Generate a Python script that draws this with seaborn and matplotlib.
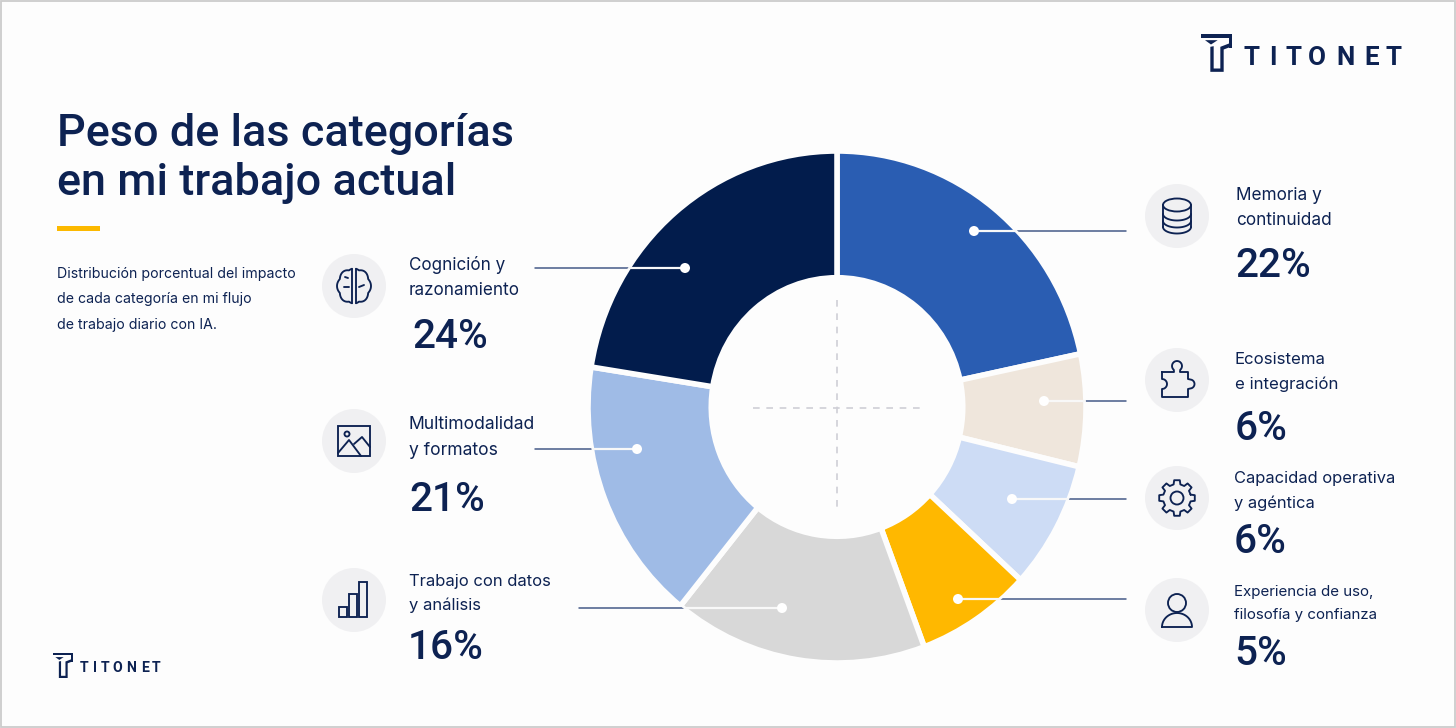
import numpy as np
import matplotlib
matplotlib.use("Agg")
import matplotlib.pyplot as plt
from matplotlib.patches import Circle, Ellipse, Polygon, Rectangle
import seaborn as sns

# Data
categories = ["Memoria y\ncontinuidad", "Ecosistema\ne integración",
              "Capacidad operativa\ny agéntica", "Experiencia de uso,\nfilosofía y confianza",
              "Trabajo con datos\ny análisis", "Multimodalidad\ny formatos",
              "Cognición y\nrazonamiento"]
percent_labels = [22, 6, 6, 5, 16, 21, 24]
# the slices in the picture are not drawn to the printed numbers, so these are the angles seen
arc_degrees = [78, 25.5, 29, 27, 59.5, 60, 81]
slice_colors = ["#2a5db2", "#efe6dc", "#cddcf5", "#ffb800", "#d8d8d8", "#9fbbe6", "#021c4c"]

NAVY = "#0d2252"
BG = "#fdfdfd"

sns.set_theme(style="white")
plt.rcParams["font.family"] = ["Inter", "DejaVu Sans"]

fig = plt.figure(figsize=(14.56, 7.28), dpi=100, facecolor=BG)

# Donut, slightly taller than wide like the original
cx, cy, rx, ry = 837, 407, 249, 256
ax_pie = fig.add_axes([(cx - rx) / 1456, 1 - (cy + ry) / 728, 2 * rx / 1456, 2 * ry / 728])
wedges, _ = ax_pie.pie(arc_degrees, colors=slice_colors, startangle=90, counterclock=False,
                       radius=1, wedgeprops=dict(width=0.495, edgecolor=BG, linewidth=4.0))
ax_pie.set_xlim(-1, 1)
ax_pie.set_ylim(-1, 1)
ax_pie.set_aspect("auto")

# Overlay in image pixels
ax = fig.add_axes([0, 0, 1, 1])
ax.set_xlim(0, 1456)
ax.set_ylim(728, 0)
ax.axis("off")
ax.patch.set_alpha(0)
ax.add_patch(Rectangle((0.7, 0.7), 1454.6, 726.6, fill=False, ec="#cccccc", lw=1.3))


def px(size):
    return size * 0.72


# Title block
ax.text(57, 146, "Peso de las categorías", fontsize=px(45), fontweight="medium", color=NAVY, family="Roboto")
ax.text(57, 195, "en mi trabajo actual", fontsize=px(45), fontweight="medium", color=NAVY, family="Roboto")
ax.add_patch(Rectangle((57, 226), 43, 5, color="#fcb900", lw=0))
for y, line in zip([278, 303, 329], ["Distribución porcentual del impacto",
                                     "de cada categoría en mi flujo",
                                     "de trabajo diario con IA."]):
    ax.text(57, y, line, fontsize=px(14.1), color=NAVY)

# Dashed cross in the hole
ax.plot([753, 922], [408, 408], color="#cfcfd6", lw=1.2, dashes=(4, 4))
ax.plot([837, 837], [300, 510], color="#cfcfd6", lw=1.2, dashes=(4, 4))

# Label layout, same order as categories
label_size = [17.2, 16.8, 16.5, 15.1, 16.6, 17.5, 17.1]
text_x = [1236, 1235, 1234, 1234, 409, 409, 409]
line1_y = [200, 364, 483, 596, 586, 429, 270]
line2_y = [225, 389, 508, 619, 610, 455, 295]
pct_x = [1235, 1235, 1234, 1234, 408, 409, 412]
pct_y = [277, 440, 553, 665, 659, 511, 348]
icon_xy = [(1177, 216), (1177, 380), (1177, 498), (1177, 610), (354, 600), (354, 441), (354, 286)]
dot_xy = [(974, 231), (1044, 401), (1012, 499), (958, 599), (782, 608), (637, 449), (685, 268)]
line_end = [1126, 1126, 1126, 1126, 579, 535, 535]

for i, cat in enumerate(categories):
    l1, l2 = cat.split("\n")
    ax.text(text_x[i], line1_y[i], l1, fontsize=px(label_size[i]), color=NAVY)
    ax.text(text_x[i], line2_y[i], l2, fontsize=px(label_size[i]), color=NAVY)
    ax.text(pct_x[i], pct_y[i], f"{percent_labels[i]}%", fontsize=px(40.5), fontweight="medium",
            color=NAVY, family="Roboto")
    ax.add_patch(Circle(icon_xy[i], 32, fc="#f0f0f2", ec="none"))
    dx, dy = dot_xy[i]
    ax.plot([line_end[i], dx], [dy, dy], color="#465a88", lw=1.1)
    white, = ax.plot([line_end[i], dx], [dy, dy], color="#f8f8f8", lw=1.6)
    white.set_clip_path(wedges[i])
    ax.add_patch(Circle((dx, dy), 5, fc="white", ec="none", zorder=5))


# Icons
lw_icon = 1.35


def stroke(xs, ys):
    ax.plot(xs, ys, color=NAVY, lw=lw_icon, solid_capstyle="round", solid_joinstyle="round")


def ring(x, y, r):
    ax.add_patch(Circle((x, y), r, fill=False, ec=NAVY, lw=lw_icon))


def arc_pts(x, y, r, a0, a1, n=20):
    t = np.radians(np.linspace(a0, a1, n))
    return x + r * np.cos(t), y + r * np.sin(t)


def database(x, y):
    ax.add_patch(Ellipse((x, y - 11), 28, 13, fill=False, ec=NAVY, lw=lw_icon))
    stroke([x - 14, x - 14], [y - 11, y + 11])
    stroke([x + 14, x + 14], [y - 11, y + 11])
    for off in [-2, 5, 11]:
        t = np.linspace(0, np.pi, 30)
        stroke(x + 14 * np.cos(t), y + off + 6.5 * np.sin(t))


def puzzle(x, y):
    kx, ky = arc_pts(x, y - 14, 5, 130, 410)
    rx_, ry_ = arc_pts(x + 13, y + 4, 4.5, -70, 70)
    lx, ly = arc_pts(x - 15, y + 4, 5, -70, 70)
    xs = np.r_[x - 15, x - 3, kx, x + 3, x + 11, x + 11, rx_, x + 11, x + 11, x - 15, x - 15, lx[::-1], x - 15, x - 15]
    ys = np.r_[y - 8, y - 8, ky, y - 8, y - 8, y - 1, ry_, y + 9, y + 17, y + 17, y + 9, ly[::-1], y - 1, y - 8]
    stroke(xs, ys)


def gear(x, y):
    teeth = 8
    ang = []
    rad = []
    for k in range(teeth):
        base = k * 360 / teeth
        ang += [base - 14, base - 9, base + 9, base + 14]
        rad += [14, 18, 18, 14]
    t = np.radians(np.array(ang + ang[:1]))
    r = np.array(rad + rad[:1])
    stroke(x + r * np.cos(t), y + r * np.sin(t))
    ring(x, y, 6.5)


def person(x, y):
    ring(x, y - 7, 9)
    t = np.linspace(np.pi, 2 * np.pi, 30)
    xs = x + 15 * np.cos(t)
    ys = y + 17 + 14 * np.sin(t)
    stroke(np.r_[xs, xs[0]], np.r_[ys, ys[0]])


def bars(x, y):
    for left, top in [(-15, 7), (-5, -6), (5, -18)]:
        ax.add_patch(Rectangle((x + left, y + top), 8, 17 - top, fill=False, ec=NAVY, lw=lw_icon))


def picture(x, y):
    ax.add_patch(Rectangle((x - 16, y - 15), 32, 30, fill=False, ec=NAVY, lw=lw_icon))
    ring(x - 7, y - 7, 2.5)
    stroke([x - 16, x - 5, x + 7], [y + 12, y - 1, y + 15])
    stroke([x, x + 8, x + 16], [y + 3, y - 4, y + 6])


def brain(x, y):
    for side in (-1, 1):
        t = np.linspace(-np.pi / 2, np.pi / 2, 120)
        r = 1 + 0.11 * np.abs(np.cos(t * 3.5))
        stroke(x + side * (2 + 13.5 * r * np.cos(t)), y + 16 * r * np.sin(t))
        stroke([x + side * 2, x + side * 2], [y - 17, y + 17])
    stroke([x - 9, x - 6], [y - 9, y - 8])
    stroke([x - 10, x - 5], [y + 1, y + 1])
    stroke([x + 5, x + 10], [y + 1, y - 1])


for draw, xy in zip([database, puzzle, gear, person, bars, picture, brain], icon_xy):
    draw(*xy)

# Logos
logo_parts = [
    [(0, 0), (94, 0), (94, 42), (84, 42), (84, 12), (0, 12)],
    [(12, 20), (50, 20), (30, 33)],
    [(28, 40), (38, 38), (38, 105), (58, 105), (58, 40), (84, 30), (84, 42), (68, 48), (68, 115), (28, 115)],
]
letters = list("TITONET")
letter_x = [1252, 1273, 1293, 1317, 1345, 1372, 1394]


def logo(x0, y0, scale, letter_pos, base, size):
    for part in logo_parts:
        ax.add_patch(Polygon([(x0 + a * scale, y0 + b * scale) for a, b in part], fc=NAVY, ec="none"))
    for ch, xp in zip(letters, letter_pos):
        ax.text(xp, base, ch, fontsize=px(size), fontweight="bold", color=NAVY, ha="center",
                family="Roboto")


logo(1201, 33.5, 1 / 3, letter_x, 65, 26)
logo(52.7, 652.7, 0.22, [81.5 + (v - 1247) * 0.505 for v in letter_x], 672.5, 14)

fig.savefig("out.png", dpi=100, facecolor=BG)
